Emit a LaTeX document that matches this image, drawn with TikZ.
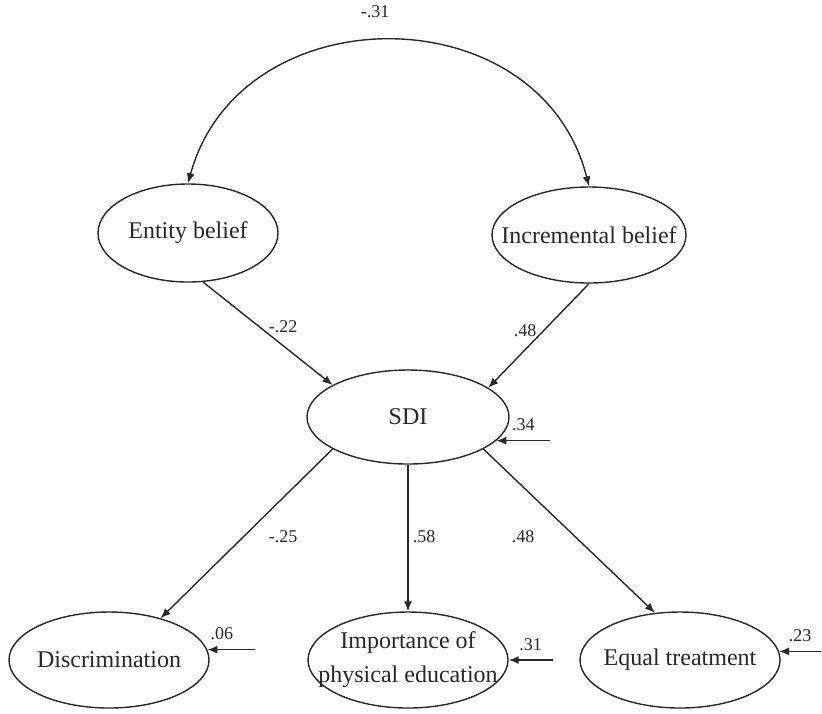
\documentclass[tikz,border=0pt]{standalone}
\usepackage{fontspec}
\setmainfont{Liberation Serif}
\usepackage{tikz}
\usetikzlibrary{shapes,arrows,arrows.meta,positioning}
\definecolor{ink}{RGB}{40,40,40}
\tikzset{
latent/.style={
    ellipse,
    draw=ink,
    text=ink,
    line width=0.7pt,
    inner xsep=-12pt,
    inner ysep=0pt,
    minimum width=100pt,
    minimum height=48pt,
    align=center,
    font=\fontsize{12}{17}\selectfont
},
descr/.style={
    text=ink,
    inner sep=1pt,
    font=\fontsize{9}{10}\selectfont
},
connector/.style={
    -{Latex[length=5pt,width=4pt]},
    draw=ink,
    line width=0.7pt
},
residual/.style={
    {Latex[length=5pt,width=4pt]}-,
    draw=ink,
    line width=0.7pt
}
}
\begin{document}
\begin{tikzpicture}[x=0.5pt,y=-0.5pt]
\useasboundingbox (0,0) rectangle (822,713);

\node[latent, minimum width=90pt, minimum height=49pt] (ent) at (188,233) {Entity belief};
\node[latent, minimum width=97pt] (inc) at (589,235) {Incremental belief};
\node[latent, minimum width=101pt, minimum height=47pt] (sdi) at (408,417) {SDI};
\node[latent] (dis) at (109,660) {Discrimination};
\node[latent] (imp) at (408,660) {Importance of\\physical education};
\node[latent] (equ) at (680,660) {Equal treatment};

\draw[connector, {Latex[length=5pt,width=4pt]}-{Latex[length=5pt,width=4pt]}] (ent.north) .. controls (240,-7) and (540,-7) .. (inc.north);
\node[descr] (c31) at (375,12) {-.31};

\draw[connector] (ent.-73) -- (sdi.157);
\draw[connector] (inc.south) -- (sdi.20);
\draw[connector] (sdi.-157) -- (dis.39);
\draw[connector] (sdi.south) -- (imp.north);
\draw[connector] (sdi.-23) -- (equ.118);

\node[descr] (p22) at (283,327) {-.22};
\node[descr] (p48a) at (525,331) {.48};
\node[descr] (p25) at (283,537) {-.25};
\node[descr] (p58) at (424,537) {.58};
\node[descr] (p48b) at (523,537) {.48};

\coordinate[right=27pt of sdi.-15] (esdi);
\coordinate[right=24pt of dis.6] (edis);
\coordinate[right=22pt of imp.east] (eimp);
\coordinate[right=21pt of equ.5] (eequ);

\draw[residual] (sdi.-15) -- node[descr, above=3.5pt] (r34) {.34} (esdi);
\draw[residual] (dis.6) -- node[descr, above=3.5pt, pos=0.3] (r06) {.06} (edis);
\draw[residual] (imp.east) -- node[descr, above=3.5pt] (r31) {.31} (eimp);
\draw[residual] (equ.5) -- node[descr, above=3.5pt] (r23) {.23} (eequ);

\end{tikzpicture}
\end{document}
